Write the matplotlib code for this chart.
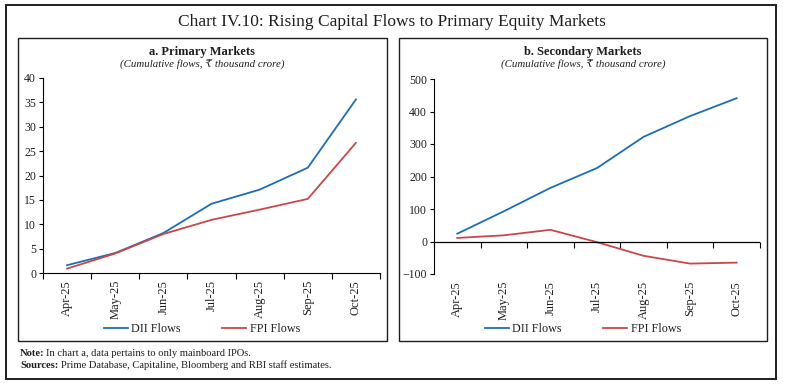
import matplotlib.pyplot as plt
from matplotlib.patches import Rectangle

months = ["Apr-25", "May-25", "Jun-25", "Jul-25", "Aug-25", "Sep-25", "Oct-25"]

# a. Primary markets (cumulative, ₹ thousand crore)
primary_dii = [1.6, 4.1, 8.2, 14.2, 17.1, 21.6, 35.6]
primary_fpi = [0.9, 4.0, 8.0, 10.9, 13.0, 15.2, 26.7]

# b. Secondary markets
secondary_dii = [24, 93, 165, 226, 322, 386, 441]
secondary_fpi = [11, 19, 36, -2, -44, -68, -65]

BLUE = "#1f6db4"
RED = "#c9474a"
INK = "#1e1e1e"

plt.rcParams["font.family"] = ["Liberation Serif", "DejaVu Serif"]

W, H = 785, 385
fig = plt.figure(figsize=(W / 100, H / 100), dpi=100)


def fbox(x0, y0, x1, y1, lw):
    # pixel box -> figure fraction rectangle
    fig.patches.append(Rectangle((x0 / W, 1 - y1 / H), (x1 - x0) / W, (y1 - y0) / H,
                                 transform=fig.transFigure, fill=False,
                                 edgecolor=INK, linewidth=lw))


fbox(6, 5, 776, 379, 1.4)
fbox(18, 38, 387, 341, 1.0)
fbox(399, 38, 767, 341, 1.0)

fig.text(392 / W, 1 - 22 / H, "Chart IV.10: Rising Capital Flows to Primary Equity Markets",
         ha="center", va="center", fontsize=12.5, color=INK)


def panel(rect, dii, fpi, ylim, yticks, title, cx, zero_axis=False):
    ax = fig.add_axes(rect)
    x = range(len(months))
    ax.plot(x, dii, color=BLUE, lw=1.3, label="DII Flows")
    ax.plot(x, fpi, color=RED, lw=1.3, label="FPI Flows")
    ax.set_xlim(-0.5, len(months) - 0.5)
    ax.set_ylim(*ylim)
    ax.set_yticks(yticks)
    ax.set_xticks(list(x))
    ax.set_xticklabels(months, rotation=90, fontsize=9, color=INK)
    ax.tick_params(axis="x", length=0, pad=5)
    ax.tick_params(axis="y", labelsize=8.5, labelcolor=INK, length=3,
                   direction="out", pad=2)
    for s in ["top", "right"]:
        ax.spines[s].set_visible(False)
    bounds = [i - 0.5 for i in range(len(months) + 1)]
    if zero_axis:
        ax.spines["bottom"].set_visible(False)
        ax.axhline(0, color="black", lw=0.9)
        frac = (0 - ylim[0]) / (ylim[1] - ylim[0])
        sec = ax.secondary_xaxis(frac)
        sec.set_xticks(bounds)
        sec.set_xticklabels([])
        sec.tick_params(length=4, direction="out", width=0.8)
        sec.spines["bottom"].set_visible(False)
    else:
        ax.set_xticks(bounds, minor=True)
        ax.tick_params(axis="x", which="minor", length=4, direction="out", width=0.8)
    ax.spines["left"].set_linewidth(0.8)
    ax.spines["bottom"].set_linewidth(0.8)
    fig.text(cx / W, 1 - 52 / H, title, ha="center", va="center",
             fontsize=9, fontweight="bold", color=INK)
    fig.text(cx / W, 1 - 65 / H, "(Cumulative flows, ₹ thousand crore)", ha="center",
             va="center", fontsize=7.8, style="italic", color=INK)
    leg = fig.legend(*ax.get_legend_handles_labels(), loc="center",
                     bbox_to_anchor=(cx / W, 1 - 329 / H), ncol=2, frameon=False,
                     fontsize=8.7, handlelength=2.0, columnspacing=3.4, handletextpad=0.3)
    for t in leg.get_texts():
        t.set_color(INK)
    return ax


panel([43 / W, 1 - 273 / H, 337 / W, 195 / H], primary_dii, primary_fpi,
      (0, 40), range(0, 41, 5), "a. Primary Markets", 202)
panel([434 / W, 1 - 274 / H, 326 / W, 195 / H], secondary_dii, secondary_fpi,
      (-100, 500), range(-100, 501, 100), "b. Secondary Markets", 583, zero_axis=True)

fs = 7.6
fig.text(20 / W, 1 - 353 / H, "Note:", fontsize=fs, va="center",
         fontweight="bold", color=INK)
fig.text(46 / W, 1 - 353 / H, "In chart a, data pertains to only mainboard IPOs.",
         fontsize=fs, va="center", color=INK)
fig.text(20 / W, 1 - 365 / H, "Sources:", fontsize=fs, va="center",
         fontweight="bold", color=INK)
fig.text(61 / W, 1 - 365 / H, "Prime Database, Capitaline, Bloomberg and RBI staff estimates.",
         fontsize=fs, va="center", color=INK)

fig.savefig("out.png", dpi=100)
